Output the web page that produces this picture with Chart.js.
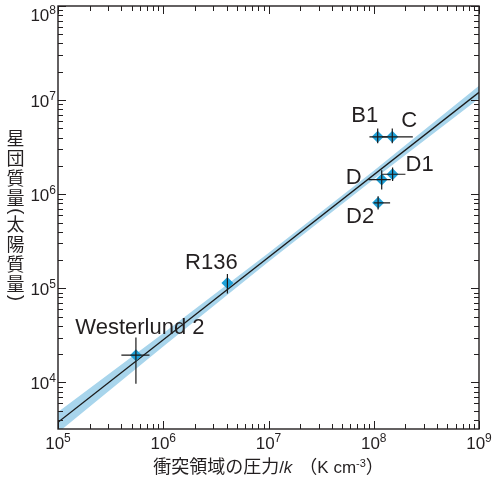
<!DOCTYPE html>
<html>
<head>
<meta charset="utf-8">
<script src="https://cdn.jsdelivr.net/npm/chart.js@4"></script>
<style>
  html, body { margin: 0; padding: 0; background: #fff; }
  #wrap { width: 498px; height: 480px; position: relative; }
</style>
</head>
<body>
<div id="wrap"><canvas id="chart"></canvas></div>
<script>
// 星団：衝突領域の圧力と星団質量
const clusterNames = ['Westerlund 2', 'R136', 'B1', 'C', 'D1', 'D', 'D2'];
const pressure     = [5.5e5, 4.07e6, 1.09e8, 1.50e8, 1.51e8, 1.19e8, 1.10e8];
const pressureLow  = [4.0e5, 4.07e6, 9.1e7, 1.2e8, 1.2e8, 8.9e7, 1.0e8];
const pressureHigh = [7.4e5, 4.07e6, 1.35e8, 2.35e8, 2.0e8, 1.45e8, 1.43e8];
const clusterMass  = [1.95e4, 1.14e5, 4.07e6, 4.07e6, 1.63e6, 1.43e6, 8.1e5];
const massLow      = [9.7e3, 8.8e4, 3.47e6, 3.47e6, 1.38e6, 1.12e6, 6.9e5];
const massHigh     = [3.0e4, 1.42e5, 5.0e6, 5.0e6, 1.92e6, 1.80e6, 9.5e5];

// フィット直線とその誤差範囲
const fitX = [1e5, 1e9];
const fitY = [3.77e3, 1.21e7];
const bandX     = [1e5, 1e6, 1e7, 1e8, 1e9];
const bandUpper = [4.85e3, 3.34e4, 2.37e5, 1.78e6, 1.42e7];
const bandLower = [2.93e3, 2.41e4, 1.92e5, 1.44e6, 1.04e7];

// 軸の目盛りラベル（10のべき）
const xTicks = [1e5, 1e6, 1e7, 1e8, 1e9];
const xTickExp = ['5', '6', '7', '8', '9'];
const yTicks = [1e4, 1e5, 1e6, 1e7, 1e8];
const yTickExp = ['4', '5', '6', '7', '8'];

// ラベルの位置ずらし（点からのピクセル）
const labelShift = [[4, -21], [-16, -14], [-13, -15], [17, -10], [27, -3], [-28, 4], [-18, 20]];

const INK = '#231f20';
const LATIN = '"Liberation Sans", Arial, sans-serif';
const CJK = '"Noto Sans CJK JP", sans-serif';

function drawPow(ctx, exp, x, baseline, align) {
    ctx.font = '17px ' + LATIN;
    const wb = ctx.measureText('10').width;
    ctx.font = '12px ' + LATIN;
    const ws = ctx.measureText(exp).width;
    const start = align === 'right' ? x - wb - ws : x - (wb + ws) / 2;
    ctx.textAlign = 'left';
    ctx.textBaseline = 'alphabetic';
    ctx.font = '17px ' + LATIN;
    ctx.fillText('10', start, baseline);
    ctx.font = '12px ' + LATIN;
    ctx.fillText(exp, start + wb, baseline - 7);
}

function logSteps(min, max) {
    const out = [];
    for (let n = Math.floor(Math.log10(min)); n <= Math.ceil(Math.log10(max)); n++) {
        for (let k = 1; k <= 9; k++) {
            const v = k * Math.pow(10, n);
            if (v >= min * 0.999 && v <= max * 1.001) out.push({ v: v, major: k === 1 });
        }
    }
    return out;
}

const decor = {
    id: 'decor',
    afterDatasetsDraw(chart) {
        const { ctx, scales: { x, y } } = chart;
        ctx.save();
        // 誤差棒
        ctx.strokeStyle = '#1a1a1a';
        ctx.lineWidth = 1.2;
        pressure.forEach((p, i) => {
            const px = x.getPixelForValue(p);
            const py = y.getPixelForValue(clusterMass[i]);
            ctx.beginPath();
            ctx.moveTo(x.getPixelForValue(pressureLow[i]), py);
            ctx.lineTo(x.getPixelForValue(pressureHigh[i]), py);
            ctx.moveTo(px, y.getPixelForValue(massLow[i]));
            ctx.lineTo(px, y.getPixelForValue(massHigh[i]));
            ctx.stroke();
        });
        // 星団名
        ctx.fillStyle = INK;
        ctx.font = '22px ' + LATIN;
        ctx.textAlign = 'center';
        ctx.textBaseline = 'alphabetic';
        clusterNames.forEach((name, i) => {
            const px = x.getPixelForValue(pressure[i]);
            const py = y.getPixelForValue(clusterMass[i]);
            ctx.fillText(name, px + labelShift[i][0], py + labelShift[i][1]);
        });
        ctx.restore();
    },
    afterDraw(chart) {
        const { ctx, chartArea: a, scales: { x, y } } = chart;
        ctx.save();
        ctx.strokeStyle = INK;
        ctx.lineWidth = 1;

        // 内向きの目盛り（四辺）
        ctx.beginPath();
        logSteps(x.min, x.max).forEach(t => {
            const px = Math.round(x.getPixelForValue(t.v)) + 0.5;
            const len = t.major ? 8 : 5;
            ctx.moveTo(px, a.bottom); ctx.lineTo(px, a.bottom - len);
            ctx.moveTo(px, a.top); ctx.lineTo(px, a.top + len);
        });
        logSteps(y.min, y.max).forEach(t => {
            const py = Math.round(y.getPixelForValue(t.v)) + 0.5;
            const len = t.major ? 8 : 5;
            ctx.moveTo(a.left, py); ctx.lineTo(a.left + len, py);
            ctx.moveTo(a.right, py); ctx.lineTo(a.right - len, py);
        });
        ctx.stroke();

        // 枠
        ctx.lineWidth = 1.4;
        ctx.strokeRect(a.left, a.top, a.right - a.left, a.bottom - a.top);

        // 目盛りラベル
        ctx.fillStyle = INK;
        xTicks.forEach((v, i) => drawPow(ctx, xTickExp[i], x.getPixelForValue(v), a.bottom + 20, 'center'));
        yTicks.forEach((v, i) => {
            const py = y.getPixelForValue(v);
            drawPow(ctx, yTickExp[i], a.left - 2, Math.max(py + 6.5, 20.5), 'right');
        });

        // 縦軸タイトル（縦書き、括弧は横倒し）
        const yTitle = ['星', '団', '質', '量', '(', '太', '陽', '質', '量', ')'];
        const isParen = ch => ch === '(' || ch === ')';
        let cy = 138;
        ctx.textAlign = 'center';
        ctx.textBaseline = 'middle';
        yTitle.forEach((ch, i) => {
            if (i > 0) {
                const prev = yTitle[i - 1];
                cy += (isParen(ch) || isParen(prev)) ? 13.3 : 20;
            }
            if (isParen(ch)) {
                ctx.save();
                ctx.translate(15.5, cy);
                ctx.rotate(Math.PI / 2);
                ctx.font = '18px ' + LATIN;
                ctx.fillText(ch, 0, 0);
                ctx.restore();
            } else {
                ctx.font = '18px ' + CJK;
                ctx.fillText(ch, 15.5, cy);
            }
        });

        // 横軸タイトル
        const parts = [
            { t: '衝突領域の圧力', f: '18px ' + CJK, dy: 0, gap: 0 },
            { t: '/', f: '17px ' + LATIN, dy: 0, gap: 0 },
            { t: 'k', f: 'italic 17px ' + LATIN, dy: 0, gap: 7 },
            { t: '（', f: '18px ' + CJK, dy: 0, gap: 0 },
            { t: 'K cm', f: '17px ' + LATIN, dy: 0, gap: 0 },
            { t: '-3', f: '11px ' + LATIN, dy: -6, gap: 0 },
            { t: '）', f: '18px ' + CJK, dy: 0, gap: 0 }
        ];
        let total = 0;
        parts.forEach(p => { ctx.font = p.f; p.w = ctx.measureText(p.t).width; total += p.w + p.gap; });
        let tx = (a.left + a.right) / 2 - total / 2;
        ctx.textAlign = 'left';
        ctx.textBaseline = 'alphabetic';
        parts.forEach(p => {
            ctx.font = p.f;
            ctx.fillText(p.t, tx, 473 + p.dy);
            tx += p.w + p.gap;
        });
        ctx.restore();
    }
};

new Chart(document.getElementById('chart'), {
    type: 'scatter',
    data: {
        datasets: [
            {
                data: pressure.map((v, i) => ({ x: v, y: clusterMass[i] })),
                pointStyle: 'rectRot',
                pointRadius: 6,
                backgroundColor: '#1ea0d7',
                borderWidth: 0,
                order: 0
            },
            {
                data: fitX.map((v, i) => ({ x: v, y: fitY[i] })),
                showLine: true,
                pointRadius: 0,
                borderColor: '#1a1a1a',
                borderWidth: 1.3,
                order: 1
            },
            {
                data: bandX.map((v, i) => ({ x: v, y: bandUpper[i] })),
                showLine: true,
                pointRadius: 0,
                borderWidth: 0,
                borderColor: 'transparent',
                backgroundColor: '#a8d5ec',
                fill: '+1',
                order: 2
            },
            {
                data: bandX.map((v, i) => ({ x: v, y: bandLower[i] })),
                showLine: true,
                pointRadius: 0,
                borderWidth: 0,
                borderColor: 'transparent',
                fill: false,
                order: 3
            }
        ]
    },
    options: {
        responsive: true,
        maintainAspectRatio: false,
        animation: false,
        layout: { padding: { left: 58, right: 19, top: 6, bottom: 51 } },
        plugins: {
            legend: { display: false },
            tooltip: { enabled: false }
        },
        scales: {
            x: { type: 'logarithmic', min: 1e5, max: 1e9, display: false },
            y: { type: 'logarithmic', min: 3200, max: 1e8, display: false }
        }
    },
    plugins: [decor]
});
</script>
</body>
</html>
